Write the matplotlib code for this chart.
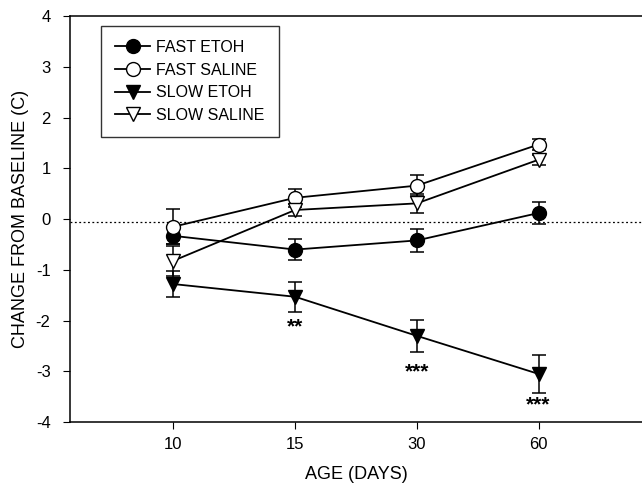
import numpy as np
import matplotlib
matplotlib.use('Agg')
import matplotlib.pyplot as plt
from matplotlib.lines import Line2D

plt.rcParams['font.family'] = ['Liberation Sans', 'DejaVu Sans']
plt.rcParams['axes.unicode_minus'] = False

ages = ['10', '15', '30', '60']

fast_etoh = [-0.33, -0.60, -0.42, 0.12]
fast_etoh_err = [0.17, 0.20, 0.22, 0.22]
fast_saline = [-0.15, 0.42, 0.66, 1.47]
fast_saline_err = [0.35, 0.18, 0.21, 0.10]
slow_etoh = [-1.28, -1.53, -2.30, -3.05]
slow_etoh_err = [0.26, 0.30, 0.32, 0.38]
slow_saline = [-0.82, 0.18, 0.31, 1.17]
slow_saline_err = [0.30, 0.12, 0.18, 0.10]

baseline = -0.05
stars = ['', '**', '***', '***']
star_y = [None, -2.12, -3.02, -3.67]

fig = plt.figure(figsize=(6.42, 4.88), dpi=100)
ax = fig.add_axes([0.109, 0.135, 0.891, 0.832])

x = np.arange(1, len(ages) + 1)
series = [
    (fast_etoh, fast_etoh_err, 'o', 'black', 'FAST ETOH'),
    (fast_saline, fast_saline_err, 'o', 'white', 'FAST SALINE'),
    (slow_etoh, slow_etoh_err, 'v', 'black', 'SLOW ETOH'),
    (slow_saline, slow_saline_err, 'v', 'white', 'SLOW SALINE'),
]
handles = []
for vals, err, m, fc, lab in series:
    ax.errorbar(x, vals, yerr=err, fmt='-' + m, color='black', mfc=fc, mec='black',
                ms=10, lw=1.3, elinewidth=1.1, capsize=5, capthick=1.1, zorder=3)
    handles.append(Line2D([], [], color='black', marker=m, mfc=fc, mec='black',
                          ms=10, lw=1.3, label=lab))

ax.axhline(baseline, color='black', ls=(0, (1.5, 2)), lw=0.9, zorder=1)

for xi, s, sy in zip(x, stars, star_y):
    if s:
        ax.text(xi, sy, s, ha='center', va='center', fontsize=15, fontweight='bold')

ax.set_xlim(0.15, 4.85)
ax.set_ylim(-4, 4)
ax.set_xticks(x)
ax.set_xticklabels(ages)
ax.set_yticks(range(-4, 5))
ax.tick_params(direction='out', length=5, labelsize=12)
ax.tick_params(axis='y', pad=9)
ax.tick_params(axis='x', pad=6)
ax.spines['right'].set_visible(False)
for s in ['left', 'bottom', 'top']:
    ax.spines[s].set_linewidth(1.1)

ax.set_xlabel('AGE (DAYS)', fontsize=13, labelpad=10)
ax.set_ylabel('CHANGE FROM BASELINE (C)', fontsize=13, labelpad=5)

leg = ax.legend(handles=handles, loc='upper left', bbox_to_anchor=(0.04, 0.996),
                fontsize=11.5, frameon=True, fancybox=False, edgecolor='black',
                handlelength=2.2, borderpad=0.9, labelspacing=0.48, handletextpad=0.35)
leg.get_frame().set_linewidth(1.0)

fig.savefig('out.png', dpi=100)
